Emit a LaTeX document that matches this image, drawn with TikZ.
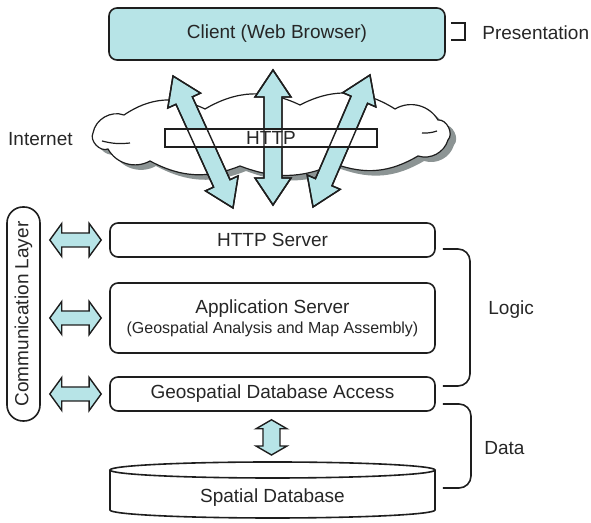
\documentclass[tikz,border=0pt]{standalone}
\usepackage{fontspec}
\setmainfont{Liberation Sans}
\usetikzlibrary{calc}
\definecolor{lightcyan}{HTML}{B7E4E7}
\definecolor{lineblack}{HTML}{1E1E1E}
\definecolor{shadowgray}{HTML}{8C9494}

\newcommand{\dblarrow}[6][fatarrow]{%
  \draw[#1] let \p1=($(#6)-(#5)$), \n1={atan2(\y1,\x1)}, \n2={veclen(\x1,\y1)} in
    [shift={(#5)}, rotate=\n1] (0pt,0pt) -- (#4pt,#3pt) -- (#4pt,#2pt)
    -- (\n2*1pt-#4pt,#2pt) -- (\n2*1pt-#4pt,#3pt) -- (\n2*1pt,0pt)
    -- (\n2*1pt-#4pt,-#3pt) -- (\n2*1pt-#4pt,-#2pt) -- (#4pt,-#2pt) -- (#4pt,-#3pt) -- cycle;}
\newcommand{\cloudpath}{(93,133) to[bend left=50] (124,115) to[bend left=30] (205,109)
  to[bend left=28] (300,105) to[bend left=30] (395,109) to[bend left=45] (438,120)
  to[bend left=70] (448,140) to[bend left=45] (418,156) to[bend left=25] (335,164)
  to[bend left=22] (240,166) to[bend left=25] (150,161) to[bend left=45] (108,149)
  to[bend left=70] (93,133) -- cycle}

\begin{document}
\begin{tikzpicture}[x=0.5pt, y=-0.5pt,
    font=\fontsize{9.5}{11}\selectfont, text=black!85,
    box/.style={draw=lineblack, line width=0.8pt, rounded corners=4pt, fill=white,
      minimum width=162.5pt, inner sep=0pt},
    tag/.style={inner sep=0pt, anchor=base west},
    fatarrow/.style={draw=lineblack, line width=0.7pt, fill=lightcyan},
    arrowline/.style={draw=lineblack, line width=0.7pt},
    bracket/.style={draw=lineblack, line width=0.8pt, rounded corners=6pt},
    dbline/.style={draw=lineblack, line width=0.8pt}]
  \useasboundingbox (0,0) rectangle (591,523);

  \node[box, fill=lightcyan, minimum width=168pt, minimum height=26pt] (client) at (277,34) {Client (Web Browser)};
  \draw[lineblack, line width=0.6pt] (451,23) -- (465,23) -- (465,40) -- (451,40);
  \node[tag] (pres) at (482,40) {Presentation};

  \fill[shadowgray, shift={(6,5)}] \cloudpath;
  \draw[lineblack, line width=0.6pt, fill=white] \cloudpath;
  \draw[lineblack, line width=0.6pt] (102,141) to[bend right=10] (130,143);
  \draw[lineblack, line width=0.6pt] (437,131) to[bend left=10] (422,133);
  \node[tag, anchor=base east] (inet) at (73,146) {Internet};

  \coordinate (lt) at (173,76);
  \coordinate (lb) at (233,208);
  \coordinate (mt) at (273,70);
  \coordinate (mb) at (273,205);
  \coordinate (rt) at (370,75);
  \coordinate (rb) at (313,207);
  \foreach \a/\b in {lt/lb, mt/mb, rt/rb}
    \dblarrow{4.5}{9}{13.5}{\a}{\b};
  \node[draw=lineblack, line width=0.7pt, fill=white, minimum width=106pt, minimum height=9pt, inner sep=0pt] (http) at (271,138) {};
  \foreach \a/\b in {lt/lb, mt/mb, rt/rb}
    \dblarrow[arrowline]{4.5}{9}{13.5}{\a}{\b};
  \node at (http) {HTTP};

  \node[box, minimum height=17pt] (srv) at (272.5,240) {HTTP Server};
  \node[box, minimum height=35pt, align=center] (app) at (272.5,318)
    {Application Server\\[-1pt]{\fontsize{8}{10}\selectfont(Geospatial Analysis and Map Assembly)}};
  \node[box, minimum height=17pt] (gda) at (272.5,394) {Geospatial Database Access};

  \node[draw=lineblack, line width=0.8pt, rounded corners=8pt, rotate=90,
    minimum width=107pt, minimum height=16.5pt, inner sep=0pt] (comm) at (23.5,314) {Communication Layer};
  \foreach \s in {srv, app, gda} {
    \coordinate (\s a) at ($(comm.south |- \s.west)+(9,0)$);
    \coordinate (\s b) at ($(\s.west)+(-8,0)$);
    \dblarrow{3.5}{8.25}{6}{\s a}{\s b}
  }

  \draw[dbline, fill=white] (110,470) -- (110,510) arc[start angle=180, end angle=0, x radius=162.5, y radius=8] -- (435,470);
  \draw[dbline, fill=white] (272.5,470) ellipse[x radius=162.5, y radius=8];
  \node (db) at (272.5,498) {Spatial Database};

  \coordinate (va) at ($(gda.south)+(-1,8)$);
  \coordinate (vb) at (271.5,455);
  \dblarrow{4.25}{7.75}{4.5}{va}{vb}

  \draw[bracket] (443,249) -- (470,249) -- (470,386) -- (443,386);
  \node[tag] (logic) at (488,315) {Logic};
  \draw[bracket] (443,404) -- (471,404) -- (471,488) -- (443,488);
  \node[tag] (data) at (484,455) {Data};
\end{tikzpicture}
\end{document}
